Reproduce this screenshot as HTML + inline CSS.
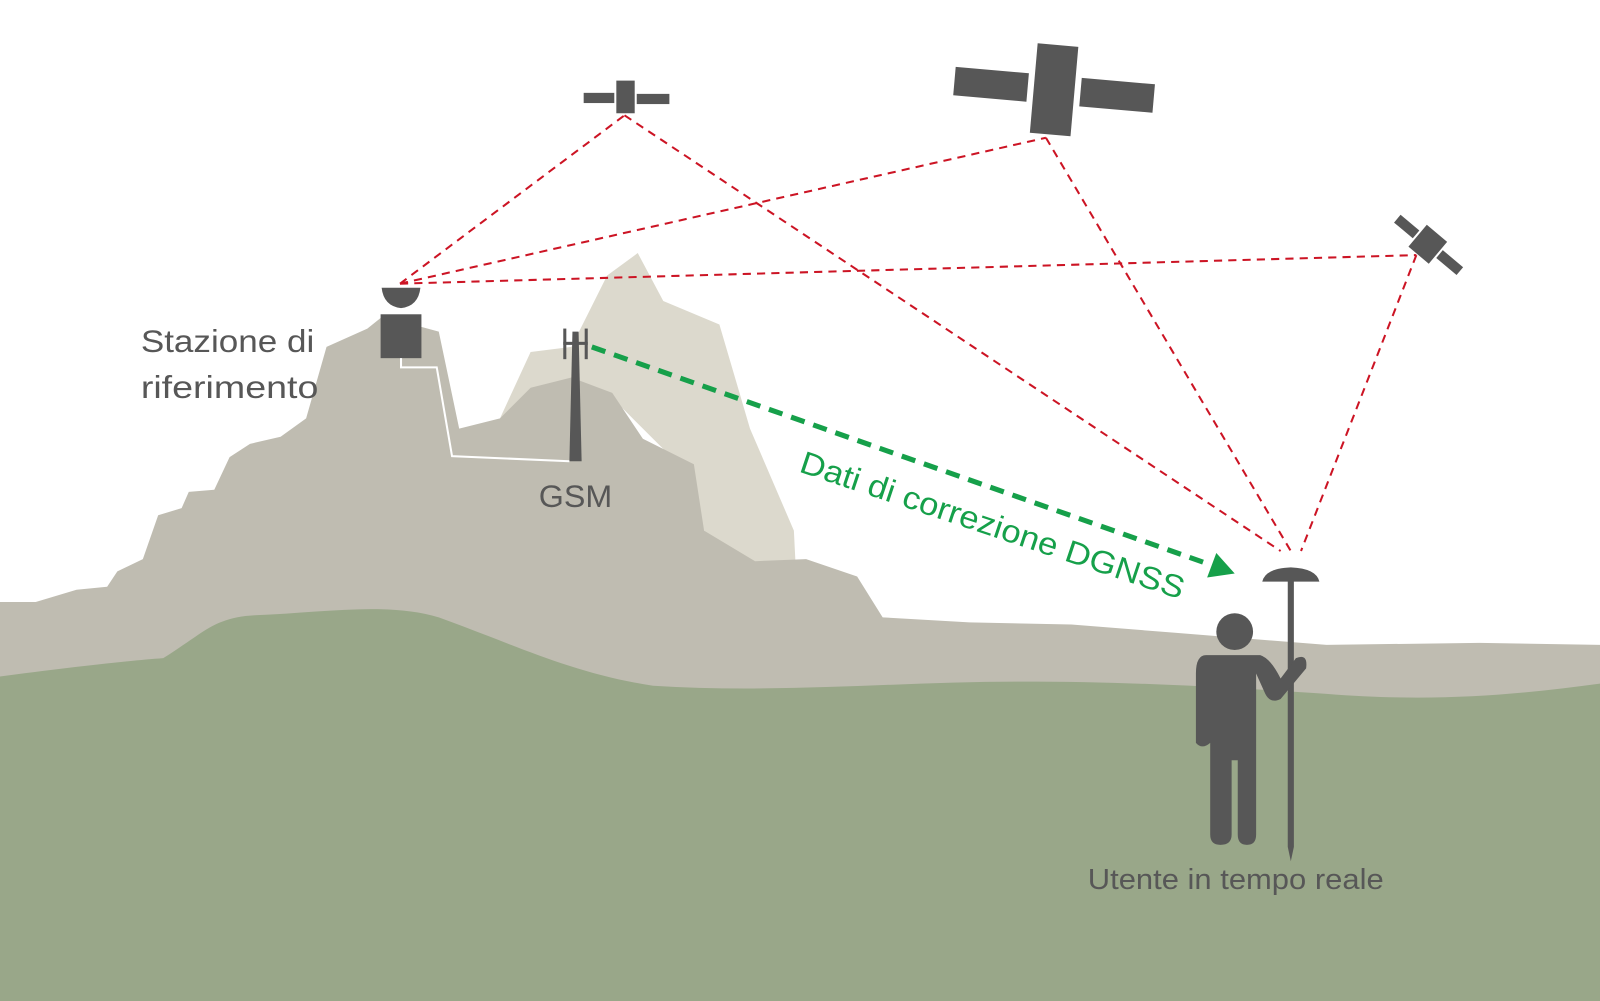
<!DOCTYPE html>
<html><head><meta charset="utf-8"><style>
html,body{margin:0;padding:0;background:#fff;width:1600px;height:1001px;overflow:hidden}
svg{display:block}
text{font-family:"Liberation Sans",sans-serif}
</style></head><body>
<svg width="1600" height="1001" viewBox="0 0 1568 981" preserveAspectRatio="none">
<rect width="1568" height="981" fill="#fff"/>
<path d="M490,410 L520,345 L560,340 L595,270 L625,248 L650,295 L705,318 L735,420 L778,520 L780,560 L740,560 L690,520 L660,450 L610,400 Z" fill="#dcd9cd"/>
<path d="M0,590 L35,590 L75,578 L105,575 L115,560 L140,548 L155,505 L178,498 L185,482 L210,480 L225,448 L245,435 L275,428 L300,410 L320,340 L360,322 L375,310 L430,325 L450,420 L490,410 L520,380 L560,370 L600,385 L630,430 L680,455 L690,520 L740,550 L790,548 L840,565 L865,605 L950,610 L1050,612 L1150,620 L1300,632 L1450,630 L1568,632 L1568,981 L0,981 Z" fill="#bfbcb1"/>
<path d="M0,663 C60,655 120,648 160,645 C200,620 210,605 250,603 C320,600 380,590 430,605 C500,630 560,660 640,672 C760,680 880,668 1000,668 C1100,668 1180,672 1300,680 C1400,688 1480,682 1568,670 L1568,981 L0,981 Z" fill="#99a789"/>
<g stroke="#cc1424" stroke-width="2" stroke-dasharray="8,6" fill="none">
<line x1="392" y1="278" x2="612" y2="113"/>
<line x1="392" y1="278" x2="1025" y2="135"/>
<line x1="392" y1="278" x2="1388" y2="250"/>
<line x1="612" y1="113" x2="1255" y2="540"/>
<line x1="1025" y1="135" x2="1265" y2="540"/>
<line x1="1388" y1="250" x2="1275" y2="540"/>
</g>
<line x1="580" y1="340" x2="1185" y2="553" stroke="#16a04a" stroke-width="5" stroke-dasharray="14,9"/>
<polygon points="1210,562 1183,566 1192,542" fill="#16a04a"/>
<text x="0" y="0" font-size="31" fill="#16a04a" textLength="395" lengthAdjust="spacingAndGlyphs" transform="translate(782,462) rotate(18.5)">Dati di correzione DGNSS</text>
<g fill="#575757">
<rect x="572" y="91" width="30" height="10"/><rect x="604" y="79" width="18" height="32"/><rect x="624" y="92" width="32" height="10"/>
<g transform="translate(1033,88) rotate(5)"><rect x="-98" y="-14" width="72" height="28"/><rect x="-20" y="-44" width="40" height="88"/><rect x="26" y="-14" width="72" height="28"/></g>
<g transform="translate(1400,240) rotate(40)"><rect x="-40" y="-5" width="24" height="10"/><rect x="-14" y="-14" width="26" height="28"/><rect x="14" y="-5" width="26" height="10"/></g>
<path d="M374,282 L412,282 Q410,300 393,302 Q376,300 374,282 Z"/>
<rect x="373" y="308" width="40" height="43"/>
<polygon points="561,325 567,325 570,452 558,452"/>
<rect x="552" y="322" width="3" height="30"/><rect x="573" y="322" width="3" height="30"/><rect x="552" y="335" width="24" height="3"/>
<path d="M1237,570 Q1240,557 1265,556 Q1290,557 1293,570 Z"/>
<polygon points="1262,568 1268,568 1268,830 1265,844 1262,830"/>
<circle cx="1210" cy="619" r="18"/>
<path d="M1182,642 L1235,642 Q1245,645 1255,665 L1270,645 Q1282,640 1280,655 L1255,685 Q1245,690 1240,680 L1231,660 L1231,818 Q1231,828 1222,828 Q1213,828 1213,818 L1213,745 L1207,745 L1207,818 Q1207,828 1196,828 Q1186,828 1186,818 L1186,728 Q1178,735 1172,728 L1172,660 Q1172,642 1182,642 Z"/>
</g>
<polyline points="393,351 393,360 428,360 443,447 558,452" fill="none" stroke="#fff" stroke-width="2"/>
<text x="138" y="345" font-size="31" fill="#575757" textLength="170" lengthAdjust="spacingAndGlyphs">Stazione di</text>
<text x="138" y="390" font-size="31" fill="#575757" textLength="174" lengthAdjust="spacingAndGlyphs">riferimento</text>
<text x="528" y="497" font-size="31" fill="#575757" textLength="72" lengthAdjust="spacingAndGlyphs">GSM</text>
<text x="1066" y="871" font-size="28" fill="#575757" textLength="290" lengthAdjust="spacingAndGlyphs">Utente in tempo reale</text>
</svg>
</body></html>
